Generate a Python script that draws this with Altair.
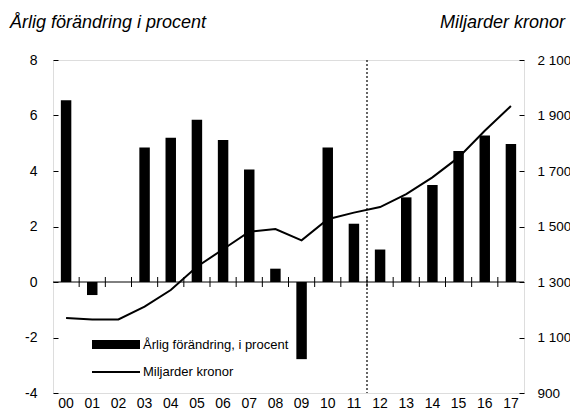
import altair as alt
import pandas as pd

years = ["00", "01", "02", "03", "04", "05", "06", "07", "08", "09",
         "10", "11", "12", "13", "14", "15", "16", "17"]
pct_change = [6.55, -0.47, 0.0, 4.85, 5.2, 5.85, 5.12, 4.05, 0.48, -2.78,
              4.85, 2.1, 1.17, 3.05, 3.5, 4.72, 5.28, 4.97]
billions = [1170, 1165, 1165, 1211, 1271, 1355, 1418, 1481, 1491, 1450,
            1526, 1550, 1570, 1617, 1677, 1749, 1845, 1934]
left_ticks = [-4, -2, 0, 2, 4, 6, 8]
right_ticks = [900, 1100, 1300, 1500, 1700, 1900, 2100]
forecast_start = "12"
title_left = "Årlig förändring i procent"
title_right = "Miljarder kronor"
legend_bar = "Årlig förändring, i procent"
legend_line = "Miljarder kronor"

FONT = "Liberation Sans, Arial, sans-serif"

df = pd.DataFrame({"year": years, "pct": pct_change, "mld": billions})
bound_df = pd.DataFrame({"year": years[:-1]})
vline_df = pd.DataFrame({"year": [forecast_start]})
one = pd.DataFrame({"k": [0]})

xscale = alt.Scale(domain=years, paddingInner=0, paddingOuter=0)
yleft = alt.Scale(domain=[-4, 8], nice=False, zero=False)
yright = alt.Scale(domain=[900, 2100], nice=False, zero=False)

xaxis = alt.Axis(labelAngle=0, ticks=False, domain=False, labelPadding=3,
                 labelFont=FONT, labelFontSize=14, labelColor="black")


def xenc(band=0.5):
    return alt.X("year:N", scale=xscale, sort=years, title=None,
                 bandPosition=band, axis=xaxis)


bars = alt.Chart(df).mark_bar(color="black", width=alt.RelativeBandSize(0.4)).encode(
    x=xenc(),
    y=alt.Y("pct:Q", scale=yleft, title=None,
            axis=alt.Axis(values=left_ticks, grid=False, domain=False, tickSize=5,
                          offset=-5, labelPadding=16, tickColor="black",
                          labelExpr="datum.value < 0 ? '-' + abs(datum.value) : '' + datum.value",
                          labelFont=FONT, labelFontSize=14, labelColor="black")),
)

zero_line = alt.Chart(one).mark_rule(color="black", strokeWidth=1).encode(
    y=alt.datum(0)
)

bound_ticks = alt.Chart(bound_df).mark_rule(color="black", strokeWidth=1,
                                             yOffset=-5, y2Offset=5).encode(
    x=xenc(1),
    y=alt.datum(0),
    y2=alt.datum(0),
)

vline = alt.Chart(vline_df).mark_rule(color="black", strokeWidth=1.2,
                                       strokeDash=[2, 2]).encode(
    x=xenc(0)
)

leg_bar = alt.Chart(one).mark_rule(color="black", strokeWidth=9, strokeCap="butt").encode(
    x=alt.value(39), x2=alt.value(87), y=alt.value(284.5)
)
leg_rule = alt.Chart(one).mark_rule(color="black", strokeWidth=2).encode(
    x=alt.value(39), x2=alt.value(87), y=alt.value(312)
)
leg_t1 = alt.Chart(one).mark_text(text=legend_bar, align="left", baseline="middle",
                                  font=FONT, fontSize=13, color="black").encode(
    x=alt.value(90), y=alt.value(285)
)
leg_t2 = alt.Chart(one).mark_text(text=legend_line, align="left", baseline="middle",
                                  font=FONT, fontSize=13, color="black").encode(
    x=alt.value(90), y=alt.value(311.5)
)
t_left = alt.Chart(one).mark_text(text=title_left, align="left", baseline="alphabetic",
                                  font=FONT, fontSize=18, fontStyle="italic",
                                  color="black").encode(
    x=alt.value(-43), y=alt.value(-32)
)
t_right = alt.Chart(one).mark_text(text=title_right, align="right", baseline="alphabetic",
                                   font=FONT, fontSize=18, fontStyle="italic",
                                   color="black").encode(
    x=alt.value(512), y=alt.value(-32)
)

left = alt.layer(bars, zero_line, bound_ticks, vline, leg_bar, leg_rule,
                 leg_t1, leg_t2, t_left, t_right)

line = alt.Chart(df).mark_line(color="black", strokeWidth=2).encode(
    x=xenc(),
    y=alt.Y("mld:Q", scale=yright, title=None,
            axis=alt.Axis(orient="right", values=right_ticks, grid=False, domain=False,
                          tickSize=5, offset=-5, labelPadding=13, tickColor="black",
                          labelExpr="replace(format(datum.value, ','), ',', ' ')",
                          labelFont=FONT, labelFontSize=13.5, labelColor="black")),
)

chart = alt.layer(left, line).resolve_scale(y="independent").properties(
    width=471, height=333,
    autosize=alt.AutoSizeParams(type="none"),
    padding={"left": 45, "top": 52, "right": 46, "bottom": 16},
).configure_view(stroke="black", strokeWidth=1).configure(background="white")

chart.save("out.html", embed_options={"renderer": "svg", "actions": False})
